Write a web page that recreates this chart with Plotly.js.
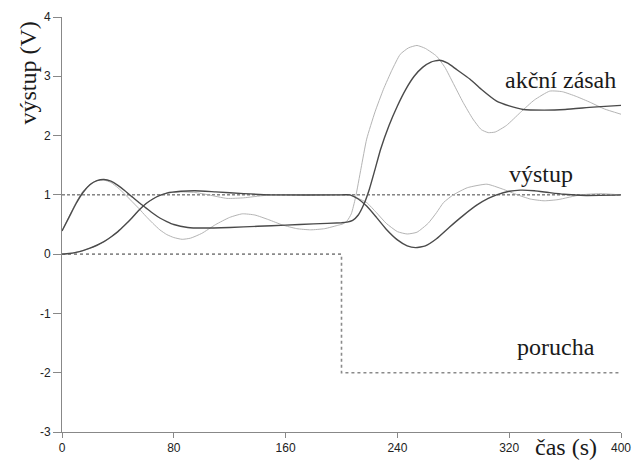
<!DOCTYPE html>
<html>
<head>
<meta charset="utf-8">
<script src="https://cdn.plot.ly/plotly-3.0.1.min.js"></script>
<style>html,body{margin:0;padding:0;background:#fff;}#chart{width:635px;height:464px;}</style>
</head>
<body>
<div id="chart"></div>
<script>
// Time (s) and values (V)
var tU1 = [0,5,10,15,20,25,30,35,40,45,50,55,60,65,70,75,80,90,100,120,140,160,180,200,204,208,212,216,220,224,228,234,240,246,252,258,264,270,276,282,292,300,311,320,330,345,360,380,400];
var u1  = [0.39,0.62,0.85,1.04,1.17,1.24,1.26,1.23,1.16,1.07,0.97,0.87,0.78,0.69,0.61,0.55,0.50,0.45,0.44,0.45,0.47,0.49,0.51,0.53,0.54,0.57,0.66,0.84,1.10,1.43,1.77,2.17,2.50,2.78,3.00,3.15,3.24,3.27,3.22,3.12,2.95,2.78,2.58,2.50,2.44,2.43,2.44,2.48,2.51];

var tU2 = [0,5,10,15,20,25,30,35,40,45,50,55,60,65,70,75,80,86,92,100,110,120,129,138,148,158,168,178,188,198,201,204,207,210,214,218,224,230,236,242,248,254,260,268,274,280,287,294,300,305,310,318,328,338,349,358,368,378,388,400];
var u2  = [0.39,0.63,0.87,1.06,1.18,1.24,1.25,1.21,1.12,1.01,0.89,0.77,0.64,0.52,0.41,0.33,0.28,0.25,0.27,0.35,0.50,0.62,0.68,0.66,0.58,0.49,0.43,0.41,0.43,0.49,0.51,0.56,0.68,0.95,1.45,1.94,2.40,2.78,3.10,3.37,3.48,3.52,3.47,3.34,3.15,2.88,2.56,2.28,2.10,2.05,2.06,2.17,2.39,2.60,2.75,2.74,2.66,2.56,2.45,2.36];

var tY1 = [0,5,10,15,20,25,30,35,40,45,50,55,60,65,70,75,85,95,110,130,150,200,206,212,218,225,232,240,247,253,260,268,277,287,297,305,311,320,328,338,348,359,375,400];
var y1  = [0,0.01,0.03,0.06,0.10,0.15,0.21,0.29,0.38,0.49,0.61,0.74,0.85,0.93,0.99,1.03,1.06,1.07,1.05,1.02,1.00,1.00,1.00,0.93,0.81,0.62,0.42,0.24,0.14,0.11,0.14,0.26,0.45,0.65,0.83,0.94,1.00,1.06,1.08,1.07,1.04,1.01,0.99,1.00];

var tY2 = [0,5,10,15,20,25,30,35,40,45,50,55,60,65,70,75,85,95,105,118,130,145,160,200,206,212,218,225,232,240,247,254,262,268,273,280,290,304,315,326,335,345,355,371,385,400];
var y2  = [0,0.01,0.03,0.06,0.10,0.15,0.21,0.29,0.38,0.49,0.61,0.74,0.85,0.93,0.99,1.03,1.05,1.04,1.00,0.94,0.95,0.99,1.00,1.00,1.00,0.94,0.87,0.70,0.52,0.38,0.34,0.37,0.52,0.70,0.87,1.00,1.12,1.18,1.10,1.00,0.93,0.90,0.92,1.00,1.02,1.00];

var tW = [0,400];
var w  = [1,1];

var tD = [0,200,200,400];
var d  = [0,0,-2,-2];

var xTicks = [0,80,160,240,320,400];
var yTicks = [-3,-2,-1,0,1,2,3,4];

var labels = [
  {text:'akční zásah', t:356.7, v:2.93},
  {text:'výstup', t:343, v:1.35},
  {text:'porucha', t:353.6, v:-1.57}
];

var dark = '#4a4a4a', light = '#b4b4b4';
var traces = [
  {x:tW, y:w, mode:'lines', line:{color:'#444', width:1, dash:'3px,2px'}},
  {x:tD, y:d, mode:'lines', line:{color:'#8a8a8a', width:1.6, dash:'dot'}},
  {x:tU2, y:u2, mode:'lines', line:{color:light, width:1, shape:'spline', smoothing:0.5}},
  {x:tY2, y:y2, mode:'lines', line:{color:light, width:1, shape:'spline', smoothing:0.5}},
  {x:tU1, y:u1, mode:'lines', line:{color:dark, width:1.4, shape:'spline', smoothing:0.5}},
  {x:tY1, y:y1, mode:'lines', line:{color:dark, width:1.4, shape:'spline', smoothing:0.5}}
];

var serif = {family:'Liberation Serif, DejaVu Serif, serif', size:24, color:'#1a1a1a'};
var ann = labels.map(function(l){
  return {text:l.text, x:l.t, y:l.v, xref:'x', yref:'y', showarrow:false,
          xanchor:'center', yanchor:'middle', font:serif};
});
ann.push({text:'čas (s)', x:0.9025, y:-0.036, xref:'paper', yref:'paper', showarrow:false,
          xanchor:'center', yanchor:'middle', font:serif});
ann.push({text:'výstup (V)', x:-0.061, y:0.866, xref:'paper', yref:'paper', showarrow:false,
          textangle:-90, xanchor:'center', yanchor:'middle', font:serif});

var layout = {
  width:635, height:464,
  margin:{l:62, r:14, t:17, b:32},
  paper_bgcolor:'#fff', plot_bgcolor:'#fff',
  showlegend:false,
  font:{family:'Liberation Sans, Arial, sans-serif', size:12, color:'#222'},
  xaxis:{range:[0,400], tickvals:xTicks, ticktext:xTicks.map(String), showgrid:false, zeroline:false,
         showline:true, linecolor:'#888', linewidth:1, ticks:'outside', ticklen:5, tickcolor:'#888',
         tickfont:{size:12, color:'#222'}},
  yaxis:{range:[-3,4], tickvals:yTicks, ticktext:yTicks.map(String), showgrid:false, zeroline:false,
         showline:true, linecolor:'#888', linewidth:1, ticks:'outside', ticklen:8, tickcolor:'#888',
         tickfont:{size:12, color:'#222'}},
  annotations:ann
};

Plotly.newPlot('chart', traces, layout, {displayModeBar:false, staticPlot:true});
</script>
</body>
</html>
